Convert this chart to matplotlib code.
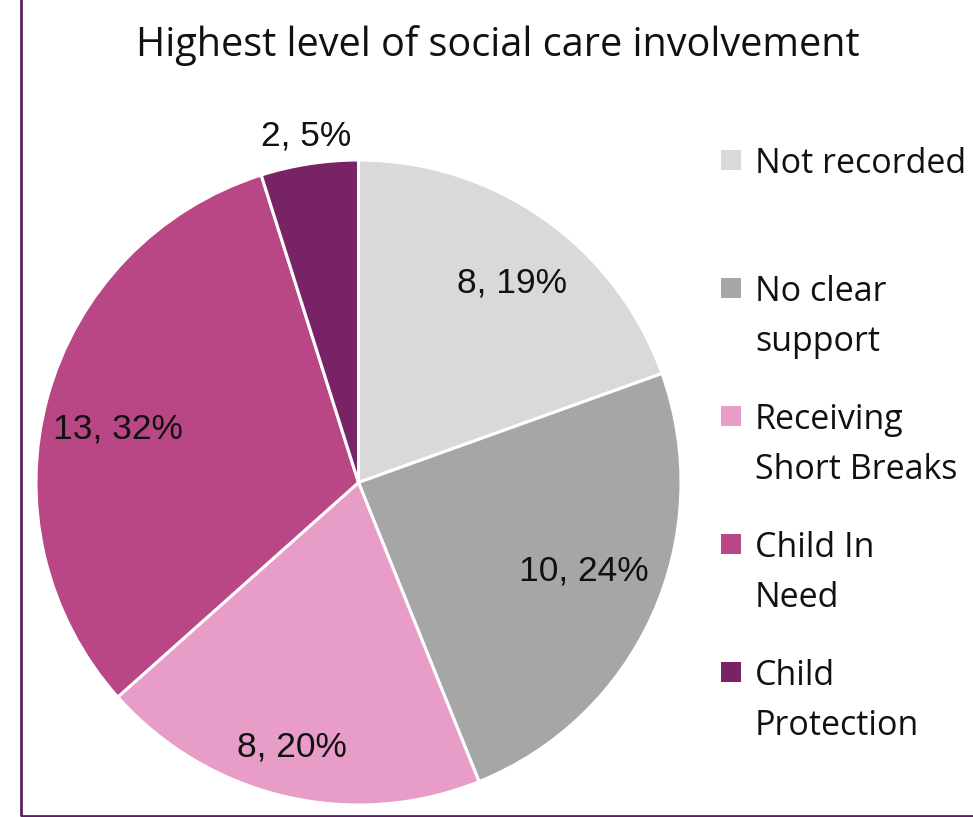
import matplotlib
matplotlib.use("Agg")
import matplotlib.pyplot as plt
import numpy as np
from matplotlib.patches import Rectangle

plt.rcParams['font.family'] = ['Open Sans', 'DejaVu Sans']

title = "Highest level of social care involvement"
categories = ["Not recorded", "No clear\nsupport", "Receiving\nShort Breaks",
              "Child In\nNeed", "Child\nProtection"]
counts = [8, 10, 8, 13, 2]
pct_labels = ["19%", "24%", "20%", "32%", "5%"]
colors = ["#d9d9d9", "#a6a6a6", "#e89cc8", "#b94685", "#772366"]

# label placement: radial distance (fraction of radius) and angular nudge (deg)
label_dist = [0.791, 0.746, 0.835, 0.766, 1.10]
label_nudge = [-1.8, 3.7, -1.1, 1.8, -0.3]

W, H = 973, 817
fig = plt.figure(figsize=(W / 100, H / 100), dpi=100)
ax = fig.add_axes([0, 0, 1, 1])

cx, cy, R = 358.5, H - 482.5, 322.5
wedges, _ = ax.pie(counts, colors=colors, startangle=90, counterclock=False,
                   center=(cx, cy), radius=R, frame=True,
                   wedgeprops=dict(edgecolor='white', linewidth=2.2))
ax.set_xlim(0, W)
ax.set_ylim(0, H)
ax.set_aspect('equal')
ax.axis('off')

digit_half = 13.5  # half the digit height, keeps the digits centred on the anchor
for w, n, p, d, nud in zip(wedges, counts, pct_labels, label_dist, label_nudge):
    mid = np.deg2rad((w.theta1 + w.theta2) / 2 + nud)
    ax.text(cx + d * R * np.cos(mid), cy + d * R * np.sin(mid) - digit_half,
            f"{n}, {p}", ha='center', va='baseline', fontsize=25.5,
            color='#111111', family=['Liberation Sans', 'DejaVu Sans'])

ax.text(498, H - 45, title, ha='center', va='center', fontsize=28.5, color='#111111')

# legend: one slot per category, marker aligned with the first text line
y0, step, line_gap = 160, 128, 50
for i, (lab, c) in enumerate(zip(categories, colors)):
    y = y0 + i * step
    ax.add_patch(Rectangle((721, H - y - 10), 20, 20, facecolor=c, edgecolor='none'))
    for j, line in enumerate(lab.split("\n")):
        ax.text(755, H - y - j * line_gap, line, ha='left', va='center_baseline',
                fontsize=24.5, color='#111111')

# outer frame
fig.patches.append(Rectangle((21 / W, 1.5 / H), 1.2, 1.2, transform=fig.transFigure,
                             fill=False, edgecolor='#5c1f63', linewidth=2))

fig.savefig("out.png", dpi=100, facecolor='white')
